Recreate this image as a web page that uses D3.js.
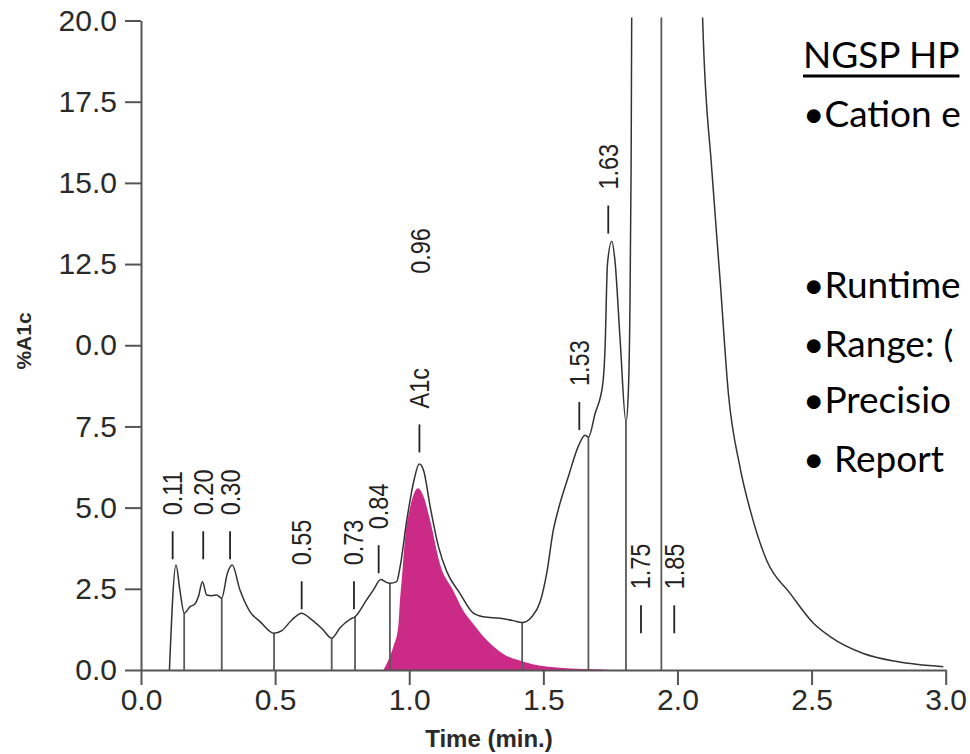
<!DOCTYPE html>
<html>
<head>
<meta charset="utf-8">
<script src="https://cdn.jsdelivr.net/npm/d3@7"></script>
<style>
  html, body { margin: 0; padding: 0; background: #fff; overflow: hidden; }
  svg { display: block; }
</style>
</head>
<body>
<svg id="chromSvg" width="970" height="754"></svg>
<script>
// chromatogram trace: retention time (min) and signal (%A1c scale)
const timeMin = [0.106, 0.1305, 0.145, 0.161, 0.183, 0.201, 0.214, 0.229, 0.245, 0.264,
  0.282, 0.301, 0.322, 0.340, 0.369, 0.406, 0.444, 0.496, 0.525, 0.562,
  0.599, 0.630, 0.674, 0.711, 0.742, 0.779, 0.798, 0.841, 0.866, 0.894,
  0.910, 0.928, 0.953, 0.966, 0.991, 1.018, 1.037, 1.053, 1.078, 1.109,
  1.140, 1.189, 1.239, 1.276, 1.339, 1.388, 1.421, 1.457, 1.488, 1.513,
  1.537, 1.556, 1.593, 1.631, 1.655, 1.668, 1.693, 1.721, 1.730, 1.739,
  1.755, 1.767, 1.786, 1.808, 1.817, 1.823, 1.827, 1.832, 2.085, 2.094,
  2.128, 2.159, 2.190, 2.233, 2.271, 2.334, 2.420, 2.507, 2.569, 2.693,
  2.818, 2.991];
const a1cSignal = [0, 3.23, 2.46, 1.75, 1.95, 2.03, 2.26, 2.72, 2.31, 2.29,
  2.31, 2.21, 2.98, 3.23, 2.46, 1.80, 1.49, 1.13, 1.21, 1.54,
  1.75, 1.59, 1.28, 0.98, 1.30, 1.56, 1.64, 2.16, 2.46, 2.79,
  2.72, 2.67, 2.72, 3.18, 4.62, 5.85, 6.34, 6.16, 5.03, 3.80,
  3.03, 2.36, 1.75, 1.64, 1.59, 1.52, 1.46, 1.64, 2.10, 3.00,
  4.30, 4.95, 5.95, 6.90, 7.23, 7.17, 7.90, 8.77, 9.90, 12.5,
  13.2, 12.6, 10.2, 7.64, 8.60, 11.3, 15.3, 24, 24, 20.0,
  15.4, 12.0, 8.50, 6.25, 4.93, 3.35, 2.36, 1.44, 1.03, 0.51,
  0.26, 0.10];

// fitted A1c peak (filled area)
const a1cPeakTime = [0.904, 0.922, 0.941, 0.959, 0.966, 0.972, 0.984, 1.003, 1.021, 1.032,
  1.053, 1.078, 1.115, 1.164, 1.200, 1.239, 1.280, 1.314, 1.360, 1.400,
  1.460, 1.520, 1.600, 1.700, 1.750];
const a1cPeakSignal = [0, 0.30, 0.72, 1.33, 2.20, 2.77, 4.00, 5.00, 5.50, 5.60,
  5.35, 4.60, 3.25, 2.45, 1.85, 1.42, 1.00, 0.72, 0.45, 0.32,
  0.18, 0.10, 0.05, 0.02, 0];

// integration boundaries (drop lines to baseline)
const dropTimes = [0.161, 0.301, 0.496, 0.711, 0.798, 0.928, 1.421, 1.668, 1.808, 1.94];

// peak labels with their marker
const peakLabels = ["0.11", "0.20", "0.30", "0.55", "0.73", "0.84", "A1c", "1.53", "1.63", "1.75", "1.85"];
const peakLabelTimes = [0.118, 0.232, 0.332, 0.599, 0.794, 0.886, 1.038, 1.634, 1.742, 1.864, 1.988];
const peakMarkLevels = [3.41, 3.41, 3.41, 1.87, 1.87, 2.98, 6.7, 7.39, 13.44, 1.13, 1.13];

// label printed without a marker
const extraLabel = "0.96";
const extraLabelTime = 1.044;
const extraLabelLevel = 12.2;

// axes
const xTicks = [0, 0.5, 1.0, 1.5, 2.0, 2.5, 3.0];
const yTicks = [0, 2.5, 5, 7.5, 10, 12.5, 15, 17.5, 20];
const yTickLabels = ["0.0", "2.5", "5.0", "7.5", "0.0", "12.5", "15.0", "17.5", "20.0"];
const xTitle = "Time (min.)";
const yTitle = "%A1c";

// slide text at the right
const slideLines = ["NGSP HP", "\u2022Cation e", "\u2022Runtime", "\u2022Range: (", "\u2022Precisio", "\u2022 Report"];

const svg = d3.select("#chromSvg");
const font = "'Liberation Sans', Arial, Helvetica, sans-serif";

const x = d3.scaleLinear().domain([0, 3]).range([141, 945.7]);
const y = d3.scaleLinear().domain([0, 20]).range([670, 20.5]);

// clip for the off-scale main peak
svg.append("defs").append("clipPath")
    .attr("id", "plotClip")
  .append("rect")
    .attr("x", x(0))
    .attr("y", y(20) - 3)
    .attr("width", x(3) - x(0) + 2)
    .attr("height", y(0) - y(20) + 3);

const plot = svg.append("g").attr("clip-path", "url(#plotClip)");

// magenta A1c area
const peakData = a1cPeakTime.map((t, i) => ({ t: t, v: a1cPeakSignal[i] }));
const area = d3.area()
    .x(d => x(d.t))
    .y0(y(0))
    .y1(d => y(d.v))
    .curve(d3.curveMonotoneX);

plot.append("path")
    .datum(peakData)
    .attr("d", area)
    .style("fill", "#cb2a87");

// drop lines
const traceData = timeMin.map((t, i) => ({ t: t, v: a1cSignal[i] }));
const bisect = d3.bisector(d => d.t).left;
function signalAt(t) {
  const i = bisect(traceData, t);
  if (i <= 0) return traceData[0].v;
  if (i >= traceData.length) return traceData[traceData.length - 1].v;
  const a = traceData[i - 1], b = traceData[i];
  return a.v + (b.v - a.v) * (t - a.t) / (b.t - a.t);
}

plot.selectAll("line.drop")
    .data(dropTimes)
    .enter()
    .append("line")
    .attr("class", "drop")
    .attr("x1", d => x(d))
    .attr("x2", d => x(d))
    .attr("y1", y(0))
    .attr("y2", d => y(signalAt(d)))
    .style("stroke", "#5a5a5a")
    .style("stroke-width", 1.8);

// trace
const line = d3.line()
    .x(d => x(d.t))
    .y(d => y(d.v))
    .curve(d3.curveMonotoneX);

plot.append("path")
    .datum(traceData)
    .attr("d", line)
    .style("fill", "none")
    .style("stroke", "#333")
    .style("stroke-width", 1.5);

// axes
const yAxis = svg.append("g")
    .attr("transform", `translate(${x(0)},0)`)
    .call(d3.axisLeft(y)
      .tickValues(yTicks)
      .tickFormat((d, i) => yTickLabels[i])
      .tickSize(16)
      .tickSizeOuter(0)
      .tickPadding(8));

const xAxis = svg.append("g")
    .attr("transform", `translate(0,${y(0)})`)
    .call(d3.axisBottom(x)
      .tickValues(xTicks)
      .tickFormat(d3.format(".1f"))
      .tickSize(15)
      .tickSizeOuter(0)
      .tickPadding(4));

[xAxis, yAxis].forEach(g => {
  g.select(".domain").style("stroke", "#555").style("stroke-width", 2);
  g.selectAll(".tick line").style("stroke", "#555").style("stroke-width", 2);
  g.selectAll(".tick text")
    .style("font-family", font)
    .style("font-size", "30px")
    .style("fill", "#2a2a2a");
});

// axis titles
svg.append("text")
    .attr("transform", `translate(31,341) rotate(-90)`)
    .attr("text-anchor", "middle")
    .style("font-family", font)
    .style("font-size", "21px")
    .style("font-weight", "bold")
    .style("fill", "#2a2a2a")
    .text(yTitle);

svg.append("text")
    .attr("x", 489)
    .attr("y", 747)
    .attr("text-anchor", "middle")
    .style("font-family", font)
    .style("font-size", "24px")
    .style("font-weight", "bold")
    .style("fill", "#2a2a2a")
    .text(xTitle);

// peak markers and labels
const markLen = 28, labelGap = 16;
const peaks = peakLabels.map((s, i) => ({ s: s, t: peakLabelTimes[i], v: peakMarkLevels[i] }));

svg.selectAll("line.mark")
    .data(peaks)
    .enter()
    .append("line")
    .attr("class", "mark")
    .attr("x1", d => x(d.t))
    .attr("x2", d => x(d.t))
    .attr("y1", d => y(d.v))
    .attr("y2", d => y(d.v) - markLen)
    .style("stroke", "#222")
    .style("stroke-width", 1.8);

svg.selectAll("text.peak")
    .data(peaks)
    .enter()
    .append("text")
    .attr("class", "peak")
    .attr("transform", d => `translate(${x(d.t)},${y(d.v) - markLen - labelGap}) rotate(-90) scale(0.87,1)`)
    .attr("dy", "0.35em")
    .style("font-family", font)
    .style("font-size", "27px")
    .style("fill", "#222")
    .text(d => d.s);

svg.append("text")
    .attr("transform", `translate(${x(extraLabelTime)},${y(extraLabelLevel)}) rotate(-90) scale(0.87,1)`)
    .attr("dy", "0.35em")
    .style("font-family", font)
    .style("font-size", "27px")
    .style("fill", "#222")
    .text(extraLabel);

// slide text
const slideBaselines = [68, 127, 298, 357, 413, 472];
const slide = svg.append("g");
slide.selectAll("text")
    .data(slideLines)
    .enter()
    .append("text")
    .attr("x", 803)
    .attr("y", (d, i) => slideBaselines[i])
    .style("font-family", "Lato, 'Open Sans', sans-serif")
    .style("font-size", "37px")
    .style("fill", "#000")
    .text(d => d);

const headLen = slide.select("text").node().getComputedTextLength();
slide.append("line")
    .attr("x1", 803)
    .attr("x2", 803 + headLen)
    .attr("y1", 76)
    .attr("y2", 76)
    .style("stroke", "#000")
    .style("stroke-width", 3);
</script>
</body>
</html>
